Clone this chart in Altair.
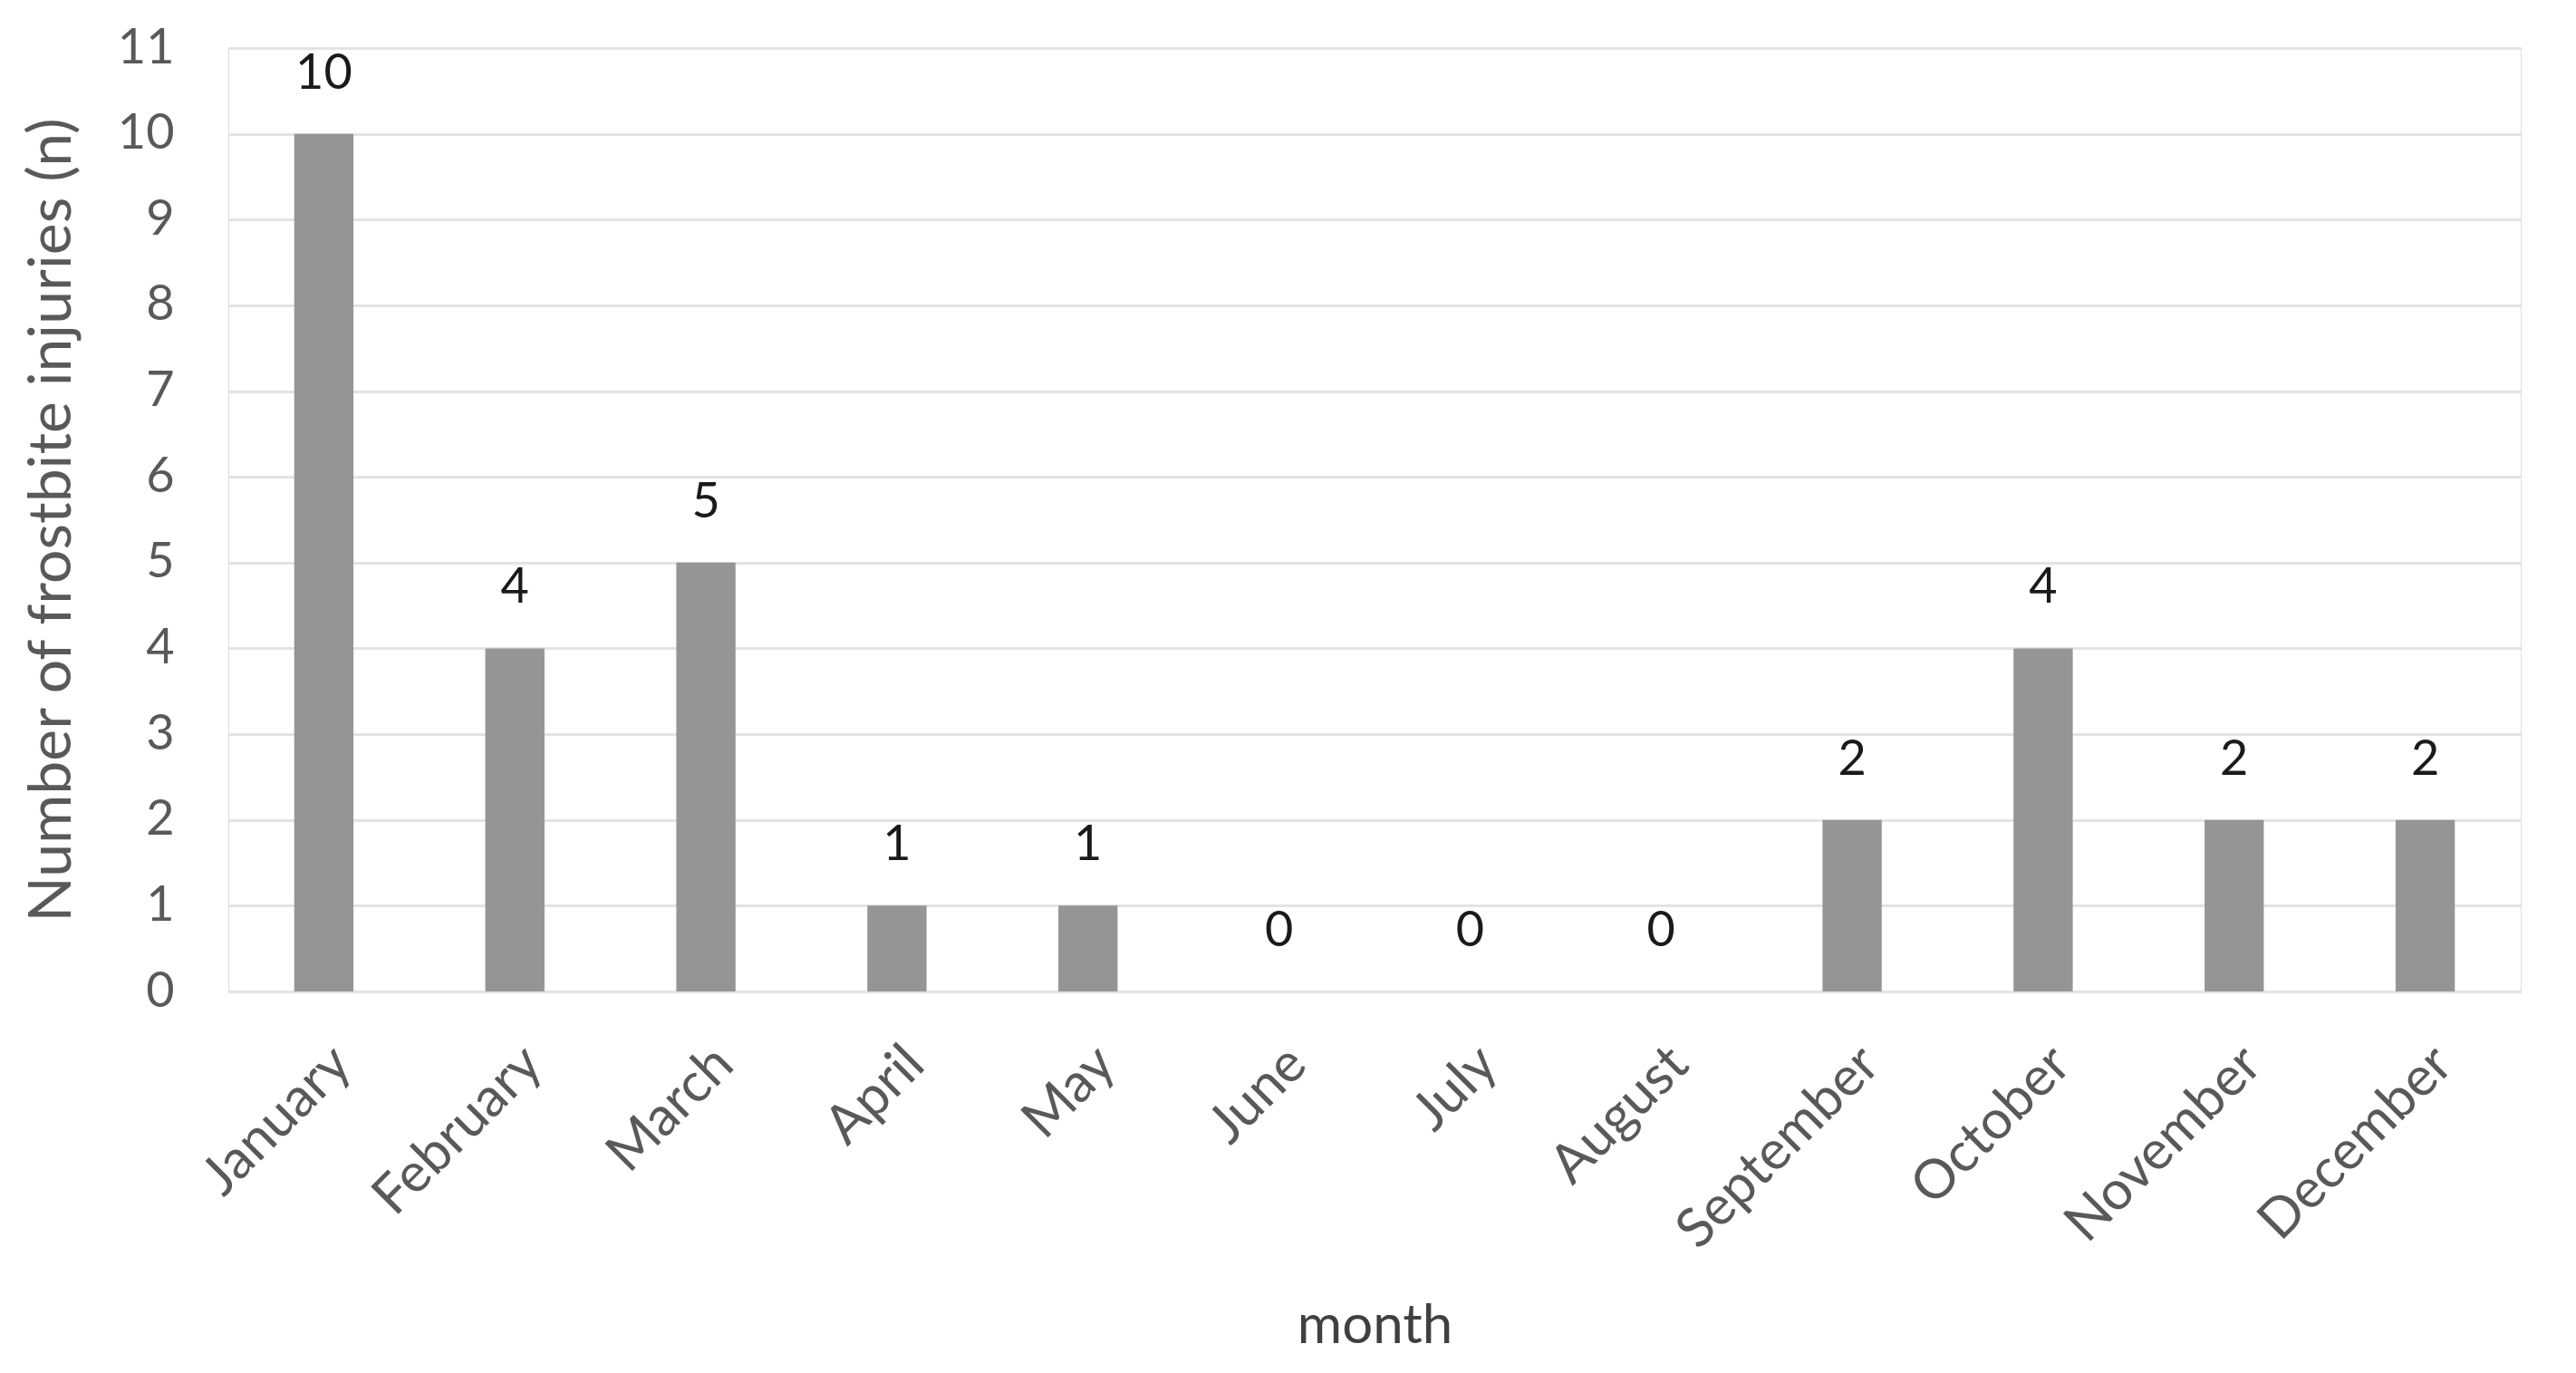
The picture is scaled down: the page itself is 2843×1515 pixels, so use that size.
import altair as alt
import pandas as pd

months = ["January", "February", "March", "April", "May", "June", "July",
          "August", "September", "October", "November", "December"]
counts = [10, 4, 5, 1, 1, 0, 0, 0, 2, 4, 2, 2]

df = pd.DataFrame({"month": months, "n": counts})

FONT = "Lato"

x = alt.X("month:N", sort=months, title="month",
          scale=alt.Scale(paddingInner=0.69, paddingOuter=0.345),
          axis=alt.Axis(labelAngle=-45, labelFontSize=60, labelColor="#595959",
                        labelFont=FONT, labelPadding=50, labelLimit=0, ticks=False, domain=False,
                        titleFontSize=60, titleColor="#404040", titleFont=FONT,
                        titleFontWeight="normal", titlePadding=140))
y = alt.Y("n:Q", title="Number of frostbite injuries (n)",
          scale=alt.Scale(domain=[0, 11], nice=False),
          axis=alt.Axis(values=list(range(0, 12)), format="d", labelFontSize=54, labelColor="#595959",
                        labelFont=FONT, labelPadding=60, ticks=False, domain=False,
                        gridColor="#e3e3e3", gridWidth=3,
                        titleFontSize=66, titleColor="#595959", titleFont=FONT,
                        titleFontWeight="normal", titlePadding=38))

bars = alt.Chart(df).mark_bar(color="#959595").encode(x=x, y=y)
labels = alt.Chart(df).mark_text(dy=-66, fontSize=54, font=FONT, color="#1a1a1a").encode(
    x=alt.X("month:N", sort=months), y="n:Q", text="n:Q")

chart = (bars + labels).properties(
    width=2530, height=1041,
    autosize=alt.AutoSizeParams(type="none"),
    padding={"left": 244, "top": 45, "right": 40, "bottom": 400},
).configure_view(stroke=None).configure(background="white")

chart.save("out.html", embed_options={"renderer": "svg", "actions": False})
